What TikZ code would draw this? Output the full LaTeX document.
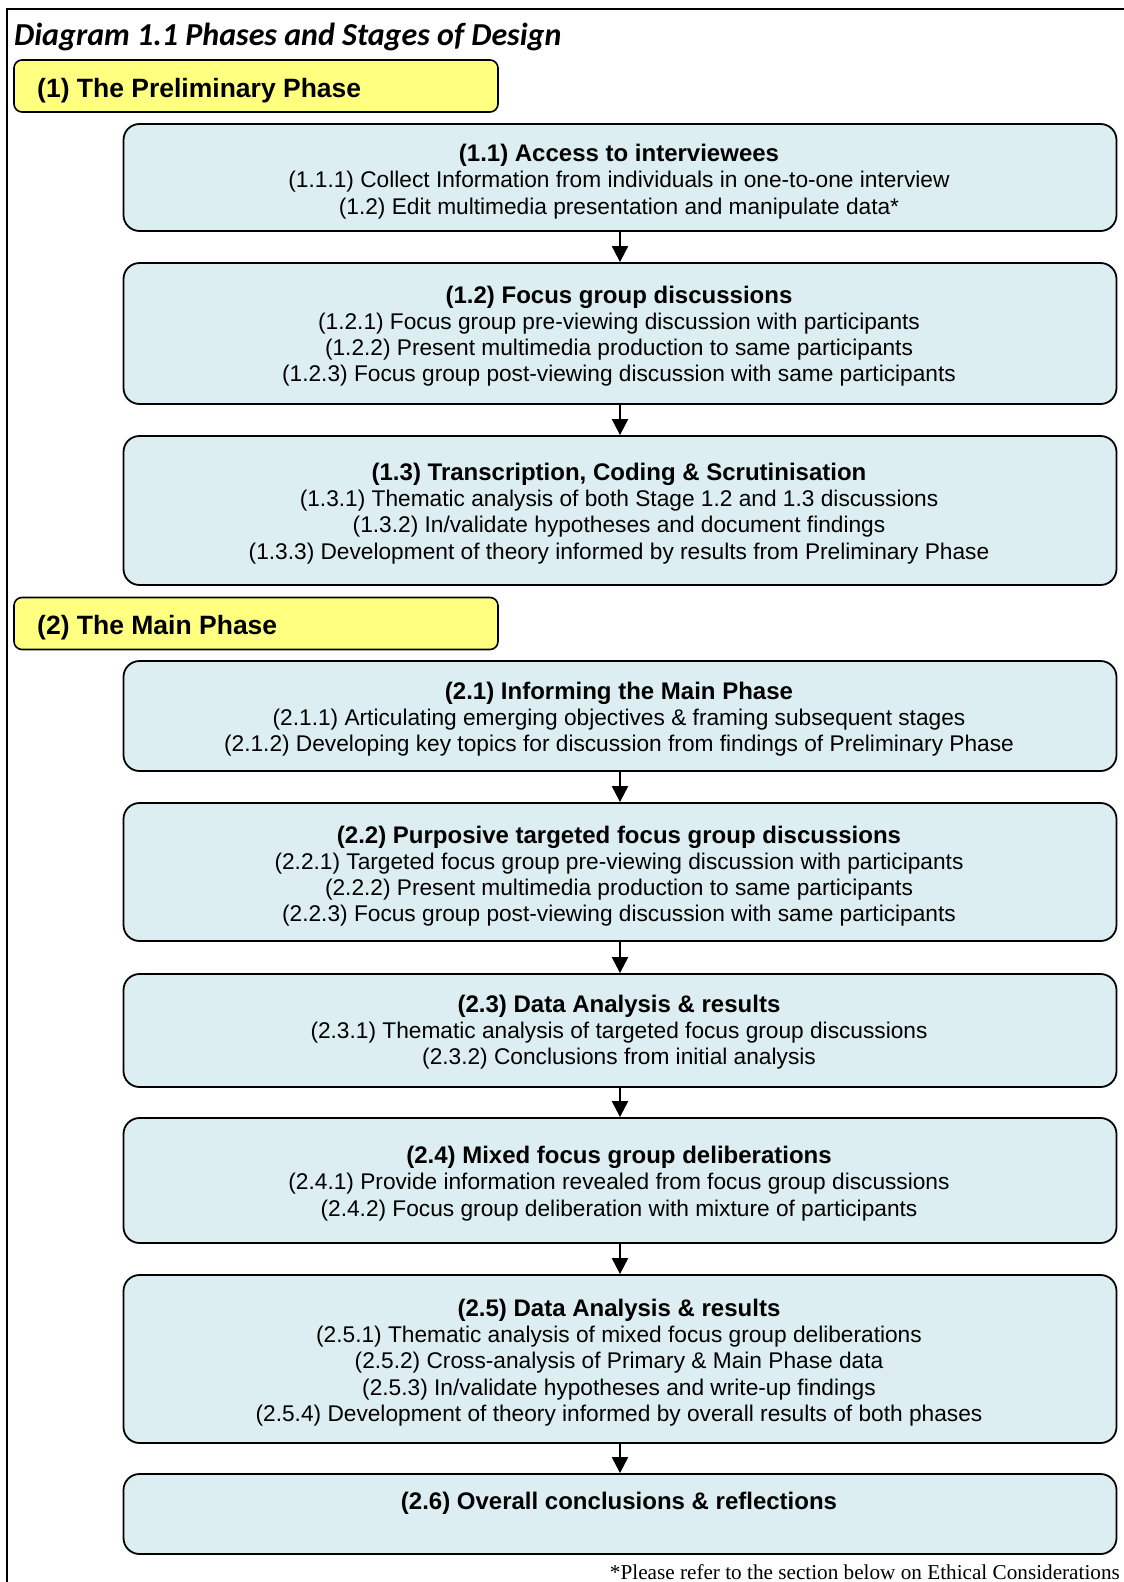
\documentclass[tikz,border=0pt]{standalone}
\usepackage{fontspec}
\setmainfont{Liberation Sans}
\newfontfamily\titlefont{Carlito}
\newfontfamily\notefont{Liberation Serif}
\usetikzlibrary{arrows.meta}
\definecolor{stagefill}{HTML}{DCEEF1}
\definecolor{phasefill}{HTML}{FFFF80}
\newcommand{\sttl}[1]{{\bfseries\fontsize{24}{26.2}\selectfont #1}}
\begin{document}
\begin{tikzpicture}[x=1pt,y=-1pt,
  stagebox/.style={draw, line width=1.8pt, rounded corners=16pt, fill=stagefill, minimum width=993pt, inner sep=0pt},
  phasebox/.style={draw, line width=1.6pt, rounded corners=8pt, fill=phasefill, minimum width=484pt, minimum height=52pt, inner sep=0pt},
  stagetext/.style={align=center, inner sep=0pt, font=\fontsize{22.7}{26.2}\selectfont},
  phasetext/.style={anchor=west, inner sep=0pt, font=\bfseries\fontsize{26.5}{30}\selectfont},
  flow/.style={line width=2pt, -{Triangle[length=16pt,width=16pt]}}
]
\useasboundingbox (0,0) rectangle (1124,1582);
\coordinate (fb) at (7,1582);
\coordinate (ftl) at (7,9);
\coordinate (ftr) at (1124,9);
\draw[line width=2.5pt] (fb) -- (ftl) -- (ftr);

\node[anchor=base west, inner sep=0pt, font=\titlefont\bfseries\itshape\fontsize{32}{36}\selectfont] (title) at (14,45) {Diagram 1.1 Phases and Stages of Design};

% Phase 1
\node[phasebox] (p1) at (256,86) {};
\node[phasetext] (p1t) at (37,90.5) {(1) The Preliminary Phase};

\node[stagebox, minimum height=107pt] (s11) at (620,177.5) {};
\node[stagetext] (t11) at (619,181.5) {\sttl{(1.1) Access to interviewees}\\(1.1.1) Collect Information from individuals in one-to-one interview\\(1.2) Edit multimedia presentation and manipulate data*};

\node[stagebox, minimum height=141pt] (s12) at (620,333.5) {};
\node[stagetext] (t12) at (619,336) {\sttl{(1.2) Focus group discussions}\\(1.2.1) Focus group pre-viewing discussion with participants\\(1.2.2) Present multimedia production to same participants\\(1.2.3) Focus group post-viewing discussion with same participants};

\node[stagebox, minimum height=149pt] (s13) at (620,510.5) {};
\node[stagetext] (t13) at (619,513.5) {\sttl{(1.3) Transcription, Coding \& Scrutinisation}\\(1.3.1) Thematic analysis of both Stage 1.2 and 1.3 discussions\\(1.3.2) In/validate hypotheses and document findings\\(1.3.3) Development of theory informed by results from Preliminary Phase};

% Phase 2
\node[phasebox] (p2) at (256,623.5) {};
\node[phasetext] (p2t) at (37,628) {(2) The Main Phase};

\node[stagebox, minimum height=110pt] (s21) at (620,716) {};
\node[stagetext] (t21) at (619,719) {\sttl{(2.1) Informing the Main Phase}\\(2.1.1) Articulating emerging objectives \& framing subsequent stages\\(2.1.2) Developing key topics for discussion from findings of Preliminary Phase};

\node[stagebox, minimum height=138pt] (s22) at (620,872) {};
\node[stagetext] (t22) at (619,876) {\sttl{(2.2) Purposive targeted focus group discussions}\\(2.2.1) Targeted focus group pre-viewing discussion with participants\\(2.2.2) Present multimedia production to same participants\\(2.2.3) Focus group post-viewing discussion with same participants};

\node[stagebox, minimum height=113pt] (s23) at (620,1030.5) {};
\node[stagetext] (t23) at (619,1032) {\sttl{(2.3) Data Analysis \& results}\\(2.3.1) Thematic analysis of targeted focus group discussions\\(2.3.2) Conclusions from initial analysis};

\node[stagebox, minimum height=125pt] (s24) at (620,1180.5) {};
\node[stagetext] (t24) at (619,1183.5) {\sttl{(2.4) Mixed focus group deliberations}\\(2.4.1) Provide information revealed from focus group discussions\\(2.4.2) Focus group deliberation with mixture of participants};

\node[stagebox, minimum height=168pt] (s25) at (620,1359) {};
\node[stagetext] (t25) at (619,1362.5) {\sttl{(2.5) Data Analysis \& results}\\(2.5.1) Thematic analysis of mixed focus group deliberations\\(2.5.2) Cross-analysis of Primary \& Main Phase data\\(2.5.3) In/validate hypotheses and write-up findings\\(2.5.4) Development of theory informed by overall results of both phases};

\node[stagebox, minimum height=80pt] (s26) at (620,1514) {};
\node[stagetext] (t26) at (619,1503.5) {\sttl{(2.6) Overall conclusions \& reflections}};

\node[anchor=base east, inner sep=0pt, font=\notefont\fontsize{21.2}{24}\selectfont] (note) at (1120,1579) {*Please refer to the section below on Ethical Considerations};

\draw[flow] (s11) -- (s12);
\draw[flow] (s12) -- (s13);
\draw[flow] (s21) -- (s22);
\draw[flow] (s22) -- (s23);
\draw[flow] (s23) -- (s24);
\draw[flow] (s24) -- (s25);
\draw[flow] (s25) -- (s26);
\end{tikzpicture}
\end{document}
